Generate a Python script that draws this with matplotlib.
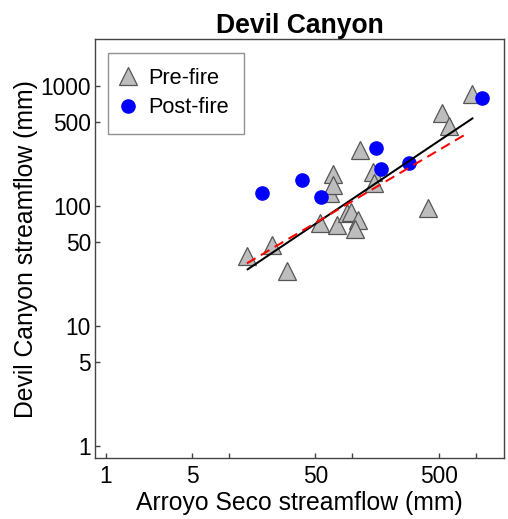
import matplotlib
matplotlib.use("Agg")
import matplotlib.pyplot as plt
import numpy as np

plt.rcParams['font.family'] = ['Liberation Sans', 'DejaVu Sans']

# Pre-fire observations (Arroyo Seco, Devil Canyon), mm
pre_x = [13.9, 22.4, 29.3, 54.6, 65.8, 69.2, 69.2, 74.6, 89.9, 96.9,
         111.6, 105, 115.3, 147.9, 149.7, 413, 530.6, 612, 929]
pre_y = [38.3, 47.3, 28.9, 71.8, 127.6, 183.7, 149.6, 69.5, 86.9, 89.7,
         76.4, 64.3, 293, 193, 154.6, 96.8, 592.5, 464, 852]

# Post-fire observations
post_x = [18.5, 38.8, 55.6, 156.3, 171.7, 289.7, 1133]
post_y = [127.6, 164.8, 118.2, 302.6, 202.2, 227, 789]

# Fitted lines (end points)
fit_solid_x = [14.1, 940]
fit_solid_y = [29.7, 538]
fit_dash_x = [13.9, 832]
fit_dash_y = [33.3, 398]

x_ticks = [1, 5, 10, 50, 100, 500, 1000]
x_labels = ['1', '5', '', '50', '', '500', '']
y_ticks = [1, 5, 10, 50, 100, 500, 1000]
y_labels = ['1', '5', '10', '50', '100', '500', '1000']

fig = plt.figure(figsize=(5.08, 5.19), dpi=100)
ax = fig.add_axes([0.187, 0.117, 0.806, 0.807])

ax.plot(pre_x, pre_y, linestyle='none', marker='^', ms=12.5,
        mfc='#bdbdbd', mec='#555555', mew=0.9, label='Pre-fire', zorder=3)
ax.plot(post_x, post_y, linestyle='none', marker='o', ms=9.5,
        mfc='#0000ff', mec='#0000ff', label='Post-fire', zorder=4)
ax.plot(fit_solid_x, fit_solid_y, color='black', lw=1.45, zorder=5)
ax.plot(fit_dash_x, fit_dash_y, color='#ff0000', lw=1.45,
        dashes=(5, 3), zorder=5)

ax.set_xscale('log')
ax.set_yscale('log')
ax.set_xlim(0.814, 1710)
ax.set_ylim(0.79, 2450)

ax.set_xticks(x_ticks)
ax.set_xticklabels(x_labels)
ax.set_yticks(y_ticks)
ax.set_yticklabels(y_labels)
ax.minorticks_off()
ax.tick_params(axis='both', direction='in', length=3.6, width=1,
               colors='#444444', labelsize=16.4, labelcolor='black')
ax.tick_params(axis='x', pad=4.5)
ax.tick_params(axis='y', pad=3)

for s in ax.spines.values():
    s.set_color('#444444')
    s.set_linewidth(1.0)

ax.set_xlabel('Arroyo Seco streamflow (mm)', fontsize=17.8, labelpad=2.5)
ax.set_ylabel('Devil Canyon streamflow (mm)', fontsize=17.8, labelpad=2)
ax.set_title('Devil Canyon', fontsize=19.1, fontweight='bold', pad=2.7)

leg = ax.legend(loc='upper left', bbox_to_anchor=(0.031, 0.968),
                fontsize=15.7, frameon=True, fancybox=False,
                edgecolor='#777777', handletextpad=0.69, borderpad=0.7,
                labelspacing=0.38, handlelength=0.46,
                borderaxespad=0)
leg.get_frame().set_linewidth(1.0)

fig.savefig('out.png', dpi=100)
